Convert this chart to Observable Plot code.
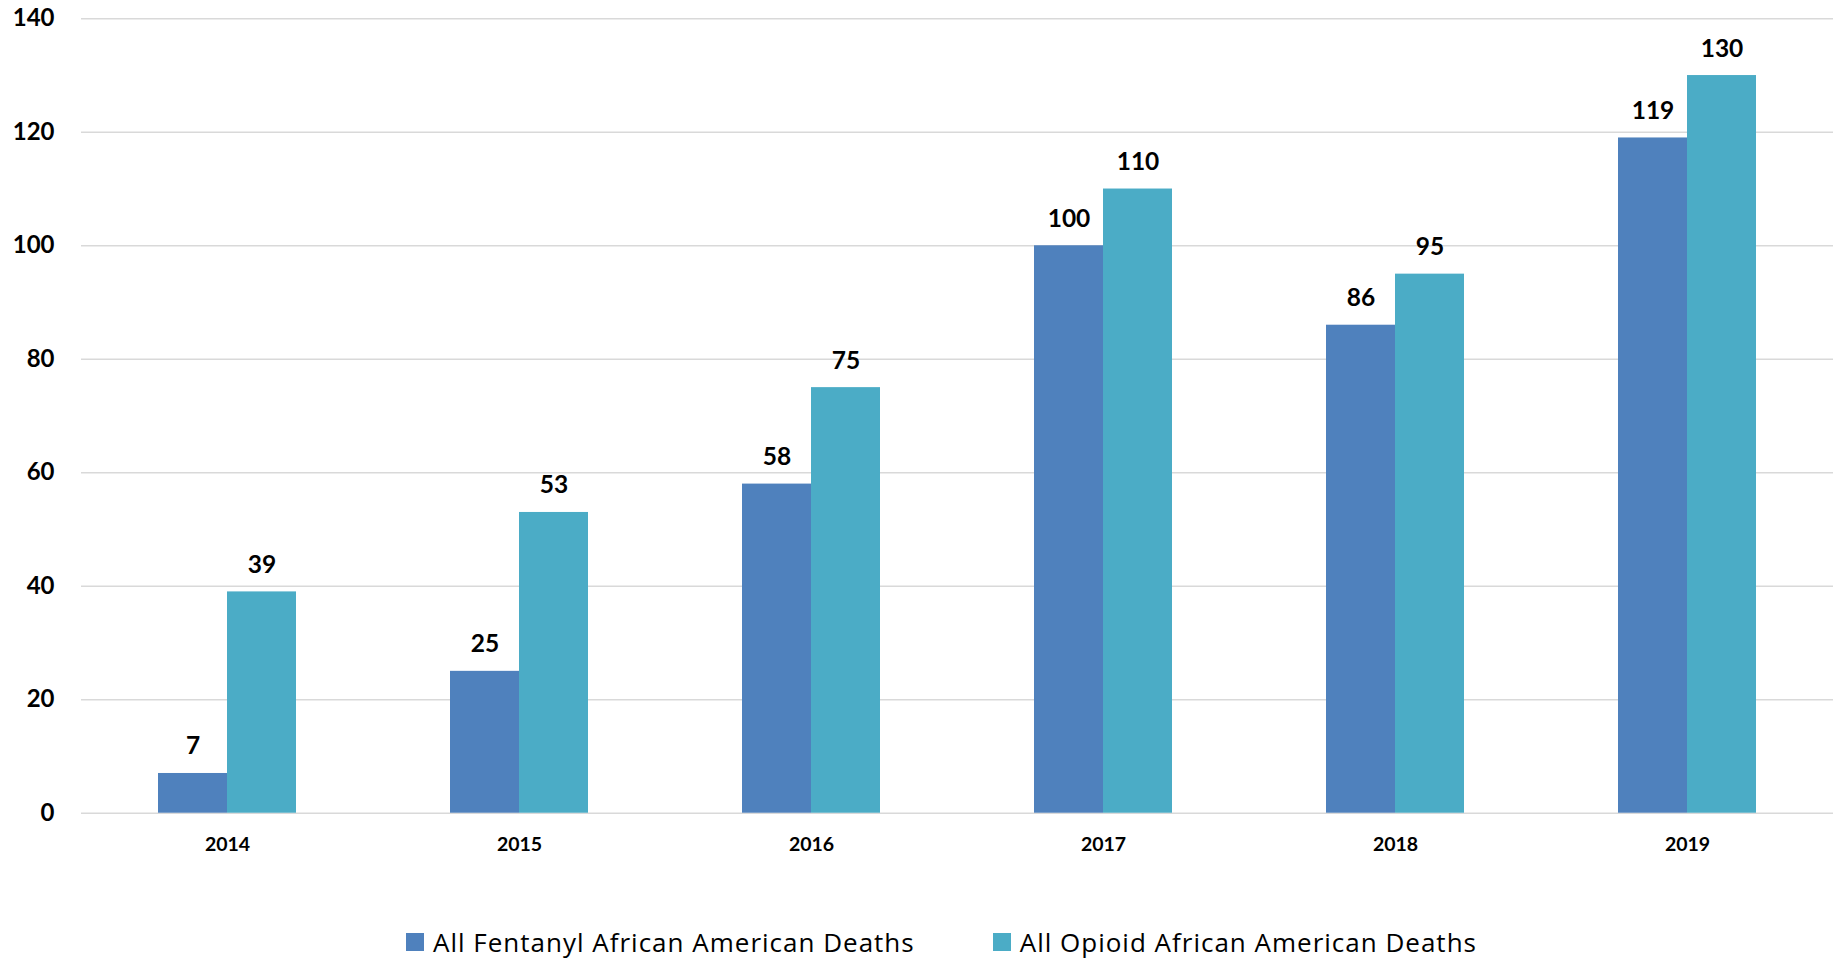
<!DOCTYPE html>
<html>
<head>
<meta charset="utf-8">
<script src="https://cdn.jsdelivr.net/npm/d3@7"></script>
<script src="https://cdn.jsdelivr.net/npm/@observablehq/plot@0.6"></script>
<style>
  html, body { margin: 0; padding: 0; background: #fff; }
  #wrap { position: relative; width: 1843px; height: 960px; }
  .lg-swatches {
    position: absolute; left: 406px; top: 921px; height: 41px; min-height: 0 !important;
    margin: 0 !important; font-family: "Open Sans", Lato, sans-serif; font-size: 26px; letter-spacing: 1px; color: #000;
    display: flex; align-items: center; flex-wrap: nowrap;
  }
  .lg-swatch { margin-right: 78px !important; display: inline-flex; align-items: center; }
  .lg-swatch > svg { margin-right: 9px !important; }
</style>
</head>
<body>
<div id="wrap"></div>
<script>
const years = ["2014", "2015", "2016", "2017", "2018", "2019"];
const seriesNames = ["All Fentanyl African American Deaths", "All Opioid African American Deaths"];
const fentanyl = [7, 25, 58, 100, 86, 119];
const opioid = [39, 53, 75, 110, 95, 130];
const yTicks = [0, 20, 40, 60, 80, 100, 120, 140];
const colors = ["#4F81BD", "#4BACC6"];

const rows = [];
years.forEach((yr, i) => {
  rows.push({year: yr, series: seriesNames[0], value: fentanyl[i]});
  rows.push({year: yr, series: seriesNames[1], value: opioid[i]});
});

const chart = Plot.plot({
  width: 1843,
  height: 880,
  marginLeft: 80,
  marginRight: 10,
  marginTop: 18.3,
  marginBottom: 67.3,
  style: {fontFamily: "Lato, 'Open Sans', sans-serif", fontSize: "24px", fontWeight: "bold", color: "#000", background: "#fff"},
  fx: {domain: years, padding: 0, axis: null, label: null},
  x: {domain: seriesNames, paddingInner: 0, paddingOuter: 1.102, axis: null},
  y: {domain: [0, 140], ticks: yTicks, tickSize: 0, tickPadding: 27, label: null, tickFormat: d => String(d)},
  color: {domain: seriesNames, range: colors},
  marks: [
    Plot.ruleY(yTicks, {stroke: "#d9d9d9", strokeWidth: 1.4}),
    Plot.barY(rows, {fx: "year", x: "series", y: "value", fill: "series"}),
    Plot.text(rows, {fx: "year", x: "series", y: "value", text: d => String(d.value), lineAnchor: "bottom", dy: -19, fontSize: 24.5, fontWeight: "bold", fill: "#000"}),
    Plot.text(years, {fx: d => d, text: d => d, frameAnchor: "bottom", lineAnchor: "bottom", dy: 38, fontSize: 19.5, fontWeight: "bold", fill: "#000"})
  ]
});

const legend = Plot.legend({color: {domain: seriesNames, range: colors}, swatchSize: 18, className: "lg"});
const wrap = document.getElementById("wrap");
wrap.appendChild(chart);
wrap.appendChild(legend);
</script>
</body>
</html>
